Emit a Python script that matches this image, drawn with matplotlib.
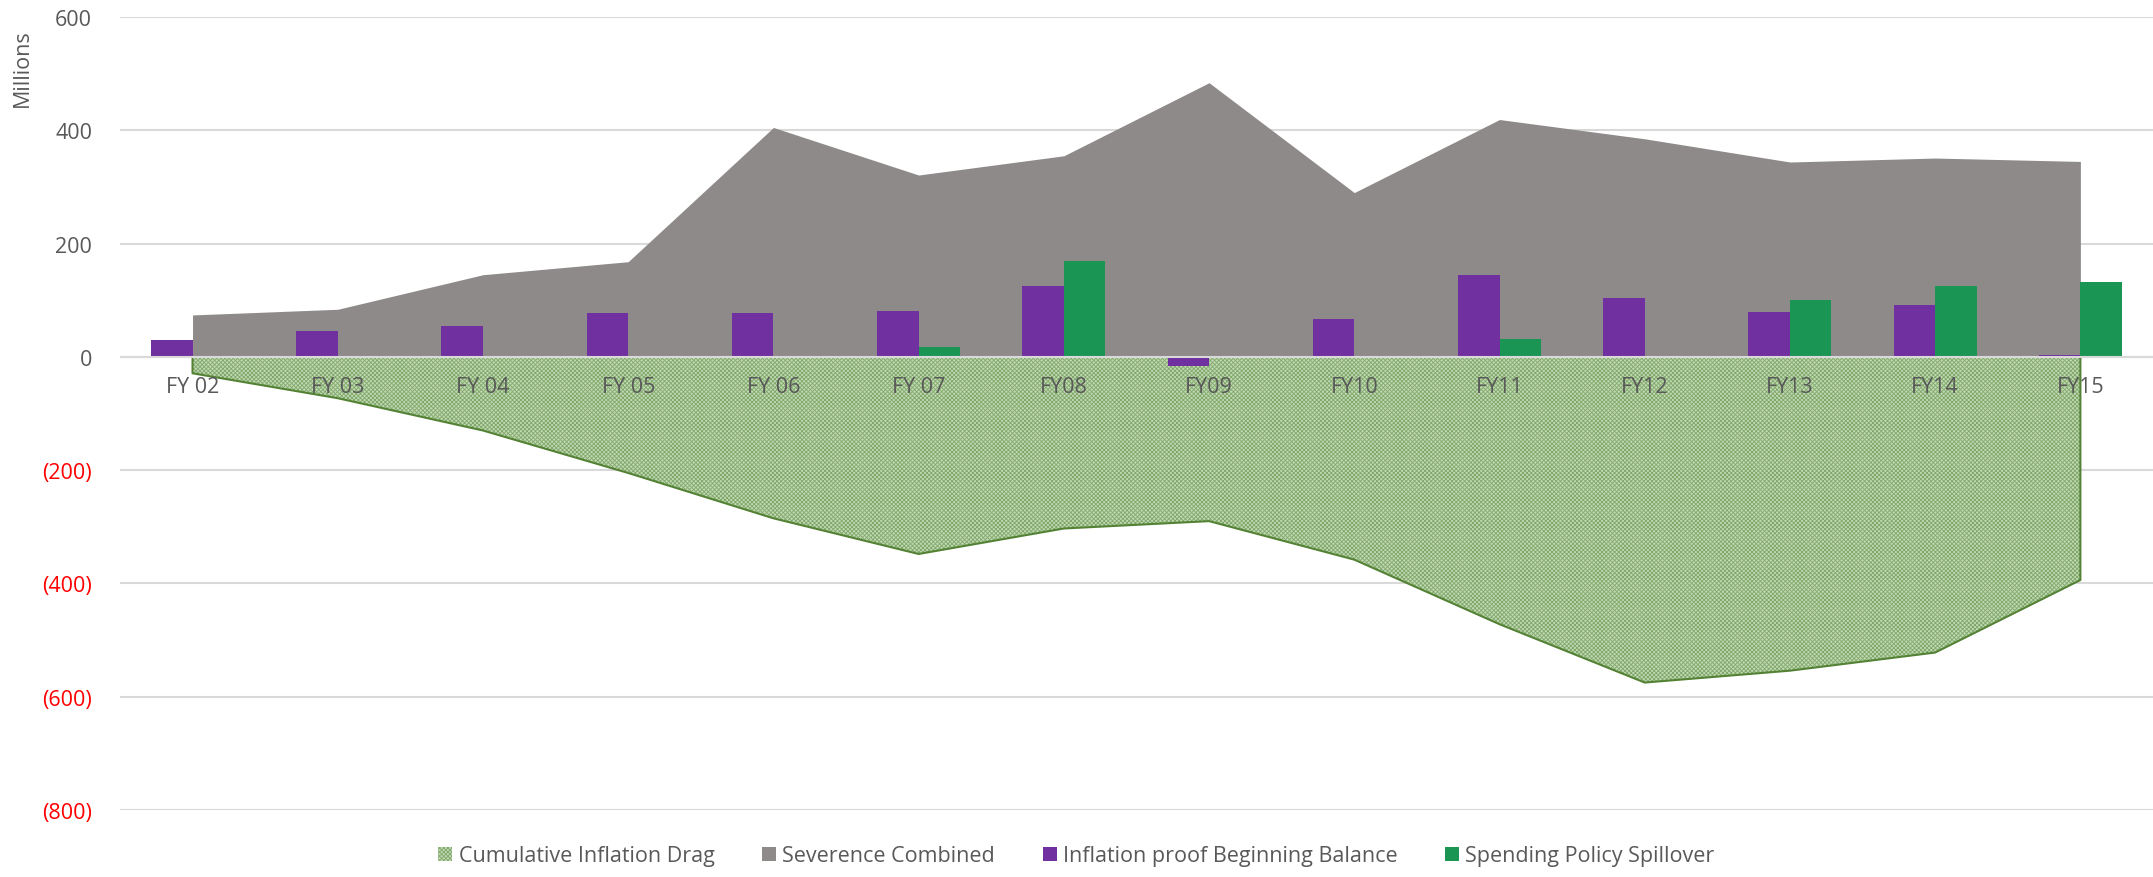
import matplotlib.pyplot as plt
import numpy as np

years = ['FY 02', 'FY 03', 'FY 04', 'FY 05', 'FY 06', 'FY 07', 'FY08',
         'FY09', 'FY10', 'FY11', 'FY12', 'FY13', 'FY14', 'FY15']
inflation_drag = [-29, -73, -130, -205, -285, -348, -303,
                  -290, -358, -472, -575, -554, -522, -394]
severence = [74, 84, 145, 168, 405, 321, 355, 484, 290, 419, 385, 344, 351, 345]
beginning_balance = [29, 45, 55, 77, 77, 81, 125, -17, 67, 144, 104, 80, 92, 4]
spillover = [0, 0, 0, 0, 0, 17, 169, 0, 0, 31, 2, 100, 125, 132]

plt.rcParams['font.family'] = ['Open Sans', 'DejaVu Sans']
plt.rcParams['hatch.linewidth'] = 0.6
plt.rcParams['hatch.color'] = '#7FA86A'

fig = plt.figure(figsize=(21.53, 8.78), dpi=100)
ax = fig.add_axes([0.0557, 0.0763, 0.9443, 0.9032])

x = np.arange(len(years))
w = 0.286

ax.fill_between(x, inflation_drag, 0, facecolor='#C2D9B4', hatch='xxxxxxxx',
                edgecolor='#7FA86A', linewidth=0, zorder=1,
                label='Cumulative Inflation Drag')
# outline of the drag area (bottom edge + both ends)
ax.plot(np.r_[x[0], x, x[-1]], np.r_[0, inflation_drag, 0],
        color='#548235', linewidth=1.5, zorder=2)
ax.fill_between(x, 0, severence, color='#8E8A89', linewidth=0, zorder=3,
                label='Severence Combined')
ax.bar(x - w / 2, beginning_balance, w, color='#7030A0', zorder=4,
       label='Inflation proof Beginning Balance')
ax.bar(x + w / 2, spillover, w, color='#1B9554', zorder=4,
       label='Spending Policy Spillover')
ax.axhline(0, color='#D9D9D9', linewidth=1.5, zorder=5)

ax.set_xlim(-0.5, len(years) - 0.5)
ax.set_ylim(-800, 600)
yt = np.arange(-800, 601, 200)
ax.set_yticks(yt)
ax.set_yticklabels(['({})'.format(-v) if v < 0 else str(v) for v in yt])
for lab, v in zip(ax.get_yticklabels(), yt):
    lab.set_color('#FF0000' if v < 0 else '#595959')
ax.yaxis.grid(True, color='#D9D9D9', linewidth=1.5)
ax.set_axisbelow(True)
# x labels sit inside the green area, keep them on top
ax.xaxis.set_zorder(6)

ax.set_xticks(x)
ax.set_xticklabels(years)
ax.spines['bottom'].set_position(('data', 0))
for s in ['top', 'right', 'left', 'bottom']:
    ax.spines[s].set_visible(False)
ax.tick_params(axis='x', length=0, pad=14, labelsize=15.5, labelcolor='#595959')
ax.tick_params(axis='y', length=0, pad=20, labelsize=15.5)

fig.text(0.0105, 0.922, 'Millions', rotation=90, ha='center', va='center',
         fontsize=15.5, color='#595959')

handles, labels = ax.get_legend_handles_labels()
fig.legend(handles, labels, loc='lower center', bbox_to_anchor=(0.5, -0.01),
           ncol=4, frameon=False, fontsize=15.5, labelcolor='#595959',
           handlelength=0.65, handleheight=0.65, handletextpad=0.3, columnspacing=2.2)

plt.savefig('out.png', dpi=100)
